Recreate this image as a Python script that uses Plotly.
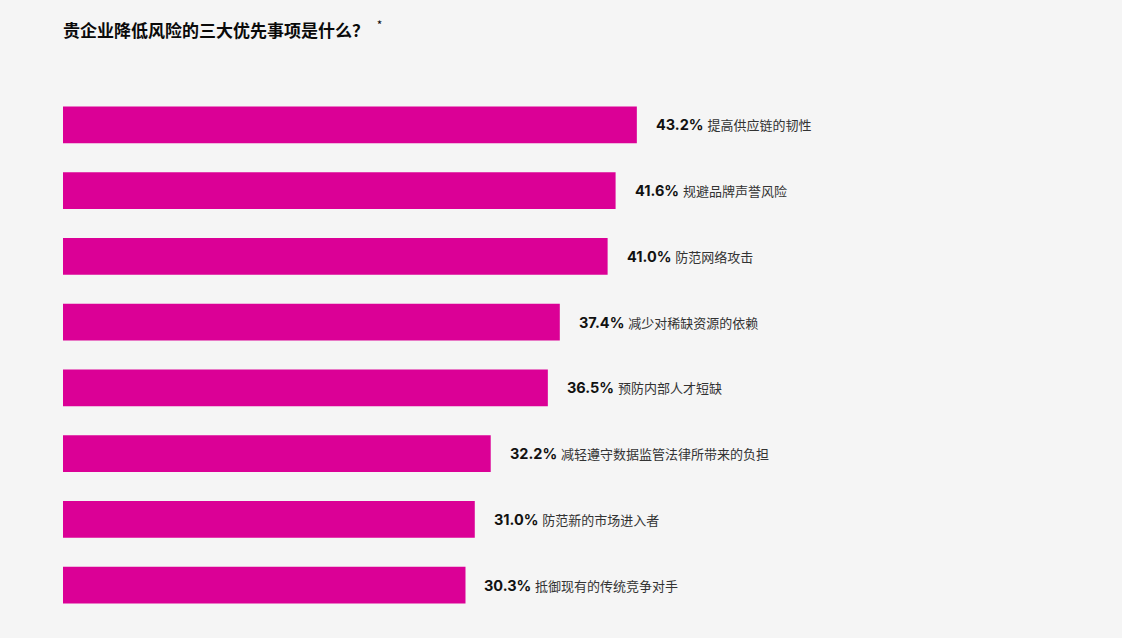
import plotly.graph_objects as go

# Données
categories = [
    "提高供应链的韧性",
    "规避品牌声誉风险",
    "防范网络攻击",
    "减少对稀缺资源的依赖",
    "预防内部人才短缺",
    "减轻遵守数据监管法律所带来的负担",
    "防范新的市场进入者",
    "抵御现有的传统竞争对手",
]
values = [43.2, 41.6, 41.0, 37.4, 36.5, 32.2, 31.0, 30.3]

bar_color = "#DB0096"
cjk = "Noto Sans CJK SC"

fig = go.Figure()
fig.add_trace(go.Bar(
    x=values,
    y=categories,
    orientation="h",
    marker=dict(color=bar_color, line=dict(width=0)),
    hoverinfo="skip",
    showlegend=False,
))

# étiquettes à droite des barres
for cat, val in zip(categories, values):
    fig.add_annotation(
        x=val, y=cat,
        xref="x", yref="y",
        text=(f"<span style='font-family:Inter;font-size:14.5px;font-weight:800;color:#111'><b>{val:.1f}%</b></span>"
              f" <span style='font-family:{cjk};font-size:13px;color:#333'>{cat}</span>"),
        showarrow=False,
        xanchor="left",
        xshift=17,
        font=dict(size=13.5, family=f"Inter, {cjk}", color="#333"),
    )

fig.update_layout(
    width=1122,
    height=638,
    paper_bgcolor="#F5F5F5",
    plot_bgcolor="#F5F5F5",
    margin=dict(l=63, r=262, t=91.5, b=19.5),
    bargap=0.44,
    title=dict(
        text="<b>贵企业降低风险的三大优先事项是什么？</b>  <sup>*</sup>",
        x=63 / 1122, xanchor="left",
        y=1 - 31 / 638, yanchor="middle",
        font=dict(size=17, family=cjk, color="#0a0a0a"),
    ),
    xaxis=dict(range=[0, 60], visible=False, fixedrange=True),
    yaxis=dict(autorange="reversed", visible=False, fixedrange=True),
)

fig.write_html("out.html", config={"displayModeBar": False},
               post_script="document.body.style.margin='0';")
